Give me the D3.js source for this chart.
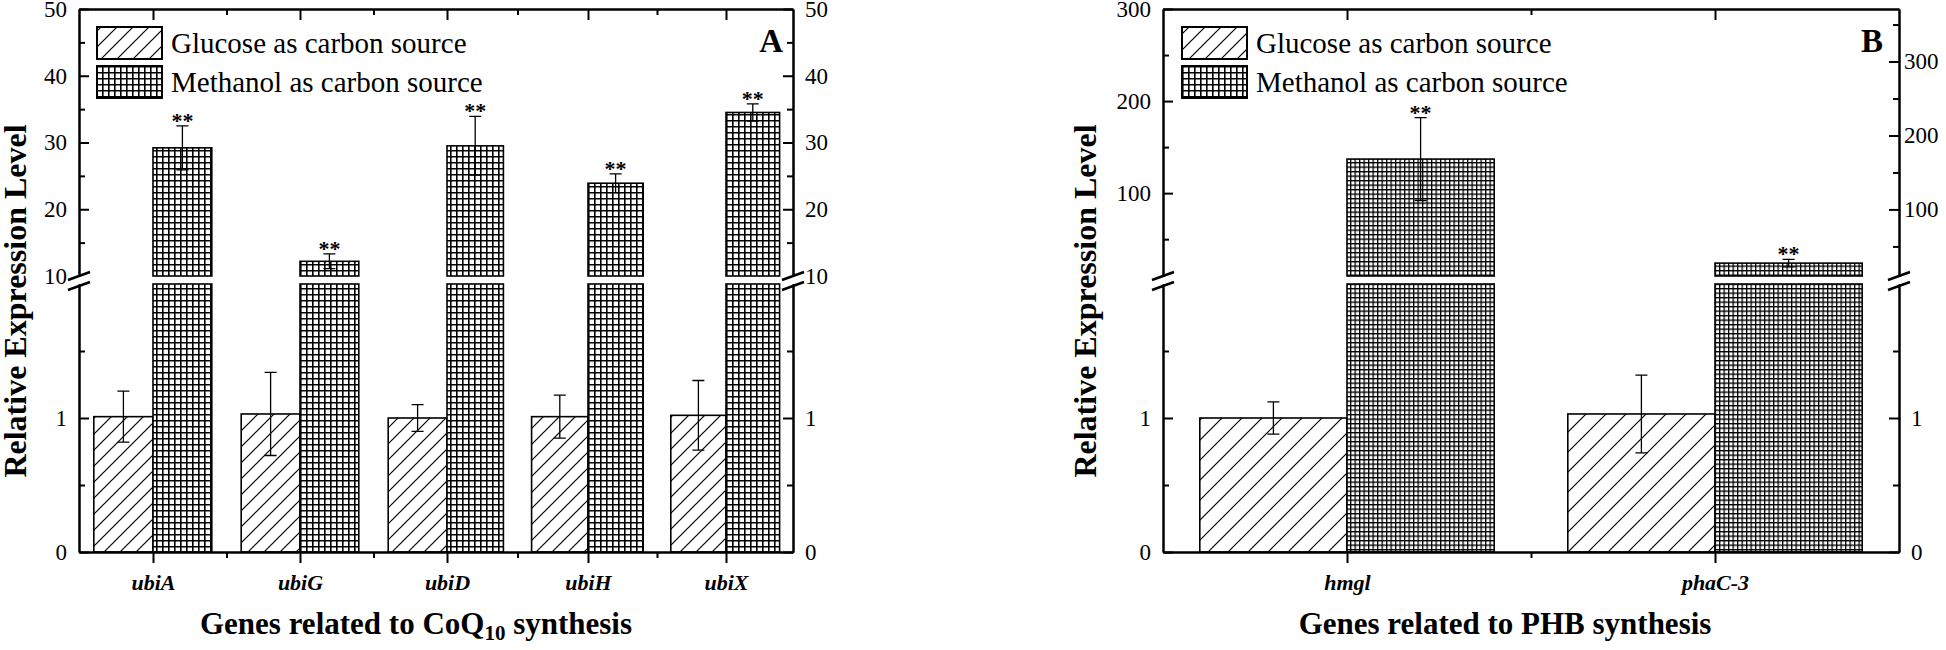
<!DOCTYPE html>
<html><head><meta charset="utf-8">
<script src="https://cdn.jsdelivr.net/npm/d3@7"></script>
<style>body{margin:0;background:#fff} text{font-family:"Liberation Serif","Times New Roman",serif;fill:#000}</style>
</head><body>
<script>
// ---------- data ----------
const genesA = ["ubiA","ubiG","ubiD","ubiH","ubiX"];
const glucoseA = [1.01,1.03,1.00,1.01,1.02];
const glucoseErrA = [0.19,0.31,0.10,0.16,0.26];
const methanolA = [29.2,12.2,29.5,23.9,34.5];
const methanolErrA = [3.3,1.1,4.4,1.4,1.3];
const genesB = ["hmgl","phaC-3"];
const glucoseB = [1.00,1.03];
const glucoseErrB = [0.12,0.29];
const methanolB = [137,24];
const methanolErrB = [45,4];
const seriesNames = ["Glucose as carbon source","Methanol as carbon source"];
const lowTicks = [0,1], lowMinor = [0.5,1.5];
const upTicksA = [10,20,30,40,50], upMinorA = [15,25,35,45];
const upTicksB = [100,200,300], upMinorB = [50,150,250];
const upTicksBR = [100,200,300], upMinorBR = [50,150,250,350];

const W=1946,H=650;
const svg=d3.select("body").append("svg").attr("width",W).attr("height",H);
const defs=svg.append("defs");
function diag(id,s,sw){
  const p=defs.append("pattern").attr("id",id).attr("patternUnits","userSpaceOnUse").attr("width",s).attr("height",s);
  p.append("rect").attr("width",s).attr("height",s).attr("fill","#fff");
  p.append("path").attr("d",`M0,${s}L${s},0M${-s/4},${s/4}L${s/4},${-s/4}M${3*s/4},${5*s/4}L${5*s/4},${3*s/4}`)
   .attr("stroke","#000").attr("stroke-width",sw);
}
function grid(id,s,sw){
  const p=defs.append("pattern").attr("id",id).attr("patternUnits","userSpaceOnUse").attr("width",s).attr("height",s);
  p.append("rect").attr("width",s).attr("height",s).attr("fill","#fff");
  p.append("path").attr("d",`M0,${sw/2}H${s}M${sw/2},0V${s}`).attr("stroke","#000").attr("stroke-width",sw);
}
diag("diagA",16,1.2); diag("diagB",20,1.2);
grid("gridA",6,1.6); grid("gridB",4.5,1.3);

const TOP=9, BOT=552, UPB=276, LOWT=284;

function styleAxis(sel,fs){
  sel.select(".domain").attr("stroke","#000").attr("stroke-width",2);
  sel.selectAll(".tick line").attr("stroke","#000").attr("stroke-width",2);
  sel.selectAll(".tick text").attr("font-size",fs).attr("fill","#000")
     .attr("font-family","'Liberation Serif',serif");
}

function panel(o){
  const g=svg.append("g");
  const x=d3.scaleLinear().domain(o.xDom).range(o.xRng);
  const L=o.xRng[0], R=o.xRng[o.xRng.length-1];
  const yLow=d3.scaleLinear().domain([0,2]).range([BOT,LOWT]);
  const yUp=d3.scaleLinear().domain(o.upDom).range([UPB,TOP]);
  const yUpR=d3.scaleLinear().domain(o.upDomR).range([UPB,TOP]);
  const bw=0.4;
  const cats=o.genes.map((n,i)=>({n,c:i+1,gl:o.gl[i],glE:o.glE[i],me:o.me[i],meE:o.meE[i]}));

  // glucose bars
  g.append("g").selectAll("rect").data(cats).join("rect")
   .attr("x",d=>x(d.c-bw)).attr("width",d=>x(d.c)-x(d.c-bw))
   .attr("y",d=>yLow(d.gl)).attr("height",d=>yLow(0)-yLow(d.gl))
   .attr("fill",`url(#${o.diag})`).attr("stroke","#000").attr("stroke-width",1.6);
  // methanol lower part
  g.append("g").selectAll("rect").data(cats).join("rect")
   .attr("x",d=>x(d.c)).attr("width",d=>x(d.c+bw)-x(d.c))
   .attr("y",yLow(2)).attr("height",yLow(0)-yLow(2))
   .attr("fill",`url(#${o.grid})`).attr("stroke","#000").attr("stroke-width",1.6);
  // methanol upper part
  g.append("g").selectAll("rect").data(cats).join("rect")
   .attr("x",d=>x(d.c)).attr("width",d=>x(d.c+bw)-x(d.c))
   .attr("y",d=>yUp(d.me)).attr("height",d=>yUp(o.upDom[0])-yUp(d.me))
   .attr("fill",`url(#${o.grid})`).attr("stroke","#000").attr("stroke-width",1.6);

  // error bars
  const cap=6;
  const eb=(cx,y1,y2)=>`M${cx},${y1}V${y2}M${cx-cap},${y1}H${cx+cap}M${cx-cap},${y2}H${cx+cap}`;
  g.append("g").selectAll("path").data(cats).join("path")
   .attr("d",d=>eb(x(d.c-bw/2),yLow(d.gl+d.glE),yLow(d.gl-d.glE)))
   .attr("stroke","#000").attr("stroke-width",1.3).attr("fill","none");
  g.append("g").selectAll("path").data(cats).join("path")
   .attr("d",d=>eb(x(d.c+bw/2),yUp(d.me+d.meE),yUp(Math.max(o.upDom[0],d.me-d.meE))))
   .attr("stroke","#000").attr("stroke-width",1.3).attr("fill","none");
  g.append("g").selectAll("text").data(cats).join("text")
   .attr("x",d=>x(d.c+bw/2)).attr("y",d=>yUp(d.me+d.meE)+2)
   .attr("text-anchor","middle").attr("font-size",22).attr("font-weight","bold").text("**");

  // axes
  const ax=g.append("g");
  function addAxis(axis,tx,ty,fs){
    const s=ax.append("g").attr("transform",`translate(${tx},${ty})`).call(axis);
    styleAxis(s,fs); return s;
  }
  // left
  const lu=addAxis(d3.axisLeft(yUp).tickValues(o.upTicks).tickSizeInner(-10).tickSizeOuter(0).tickPadding(12).tickFormat(d3.format("d")),L,0,23);
  lu.selectAll(".tick").filter(d=>d===o.upDom[0]).select("line").remove();
  addAxis(d3.axisLeft(yUp).tickValues(o.upMinor).tickSizeInner(-6).tickSizeOuter(0).tickFormat(""),L,0,23);
  addAxis(d3.axisLeft(yLow).tickValues(lowTicks).tickSizeInner(-10).tickSizeOuter(0).tickPadding(12).tickFormat(d3.format("d")),L,0,23);
  addAxis(d3.axisLeft(yLow).tickValues(lowMinor).tickSizeInner(-6).tickSizeOuter(0).tickFormat(""),L,0,23);
  // right
  const ru=addAxis(d3.axisRight(yUpR).tickValues(o.upTicksR).tickSizeInner(-10).tickSizeOuter(0).tickPadding(o.rPad).tickFormat(d3.format("d")),R,0,23);
  ru.selectAll(".tick").filter(d=>d===o.upDomR[0]).select("line").remove();
  addAxis(d3.axisRight(yUpR).tickValues(o.upMinorR).tickSizeInner(-6).tickSizeOuter(0).tickFormat(""),R,0,23);
  addAxis(d3.axisRight(yLow).tickValues(lowTicks).tickSizeInner(-10).tickSizeOuter(0).tickPadding(12).tickFormat(d3.format("d")),R,0,23);
  addAxis(d3.axisRight(yLow).tickValues(lowMinor).tickSizeInner(-6).tickSizeOuter(0).tickFormat(""),R,0,23);
  // bottom
  const cv=cats.map(d=>d.c), mv=cats.slice(1).map(d=>d.c-0.5);
  const bx=addAxis(d3.axisBottom(x).tickValues(cv).tickSizeInner(11).tickSizeOuter(0).tickPadding(11).tickFormat(v=>o.genes[v-1]),0,BOT,22);
  bx.selectAll(".tick text").attr("font-weight","bold").attr("font-style","italic");
  addAxis(d3.axisBottom(x).tickValues(mv).tickSizeInner(6).tickSizeOuter(0).tickFormat(""),0,BOT,22);
  // top
  addAxis(d3.axisTop(x).tickValues(cv).tickSizeInner(-11).tickSizeOuter(0).tickFormat(""),0,TOP,22);
  addAxis(d3.axisTop(x).tickValues(mv).tickSizeInner(-6).tickSizeOuter(0).tickFormat(""),0,TOP,22);

  // break marks
  [L,R].forEach(X=>{
    [yUp(o.upDom[0]),yLow(2)+2].forEach(Y=>{
      g.append("line").attr("x1",X-11).attr("y1",Y+4).attr("x2",X+11).attr("y2",Y-4)
       .attr("stroke","#000").attr("stroke-width",2.4);
    });
  });

  // legend
  const lg=g.append("g");
  [o.diagLeg,o.gridLeg].forEach((p,i)=>{
    const yy=27+i*39;
    lg.append("rect").attr("x",o.legX).attr("y",yy).attr("width",65).attr("height",32)
      .attr("fill",`url(#${p})`).attr("stroke","#000").attr("stroke-width",2);
    lg.append("text").attr("x",o.legX+74).attr("y",yy+26).attr("font-size",29).text(seriesNames[i]);
  });

  // panel letter
  g.append("text").attr("x",o.letX).attr("y",52).attr("text-anchor","end")
   .attr("font-size",33).attr("font-weight","bold").text(o.letter);

  // y title
  g.append("text").attr("transform",`translate(${o.yTitleX},301) rotate(-90)`)
   .attr("text-anchor","middle").attr("font-size",32).attr("font-weight","bold")
   .text("Relative Expression Level");

  // x title
  const xt=g.append("text").attr("x",o.xTitleX).attr("y",634).attr("text-anchor","middle")
   .attr("font-size",31).attr("font-weight","bold");
  o.xTitle(xt);
}

panel({
  genes:genesA, gl:glucoseA, glE:glucoseErrA, me:methanolA, meE:methanolErrA,
  xDom:[0.5,1,2,3,4,5,5.5], xRng:[79,153,300,447,588,726,793],
  upDom:[10,50], upDomR:[10,50], upTicks:upTicksA, upMinor:upMinorA,
  upTicksR:upTicksA, upMinorR:upMinorA, rPad:12,
  diag:"diagA", grid:"gridA", diagLeg:"diagA", gridLeg:"gridA",
  legX:97, letX:783, letter:"A", yTitleX:26, xTitleX:416,
  xTitle:t=>{t.append("tspan").text("Genes related to CoQ");
    t.append("tspan").attr("font-size",21).attr("dy",6).text("10");
    t.append("tspan").attr("dy",-6).text(" synthesis");}
});
panel({
  genes:genesB, gl:glucoseB, glE:glucoseErrB, me:methanolB, meE:methanolErrB,
  xDom:[0.5,2.5], xRng:[1163,1899],
  upDom:[10,300], upDomR:[10,371], upTicks:upTicksB, upMinor:upMinorB,
  upTicksR:upTicksBR, upMinorR:upMinorBR, rPad:5,
  diag:"diagB", grid:"gridB", diagLeg:"diagA", gridLeg:"gridA",
  legX:1182, letX:1883, letter:"B", yTitleX:1096, xTitleX:1505,
  xTitle:t=>t.text("Genes related to PHB synthesis")
});
</script>
</body></html>
